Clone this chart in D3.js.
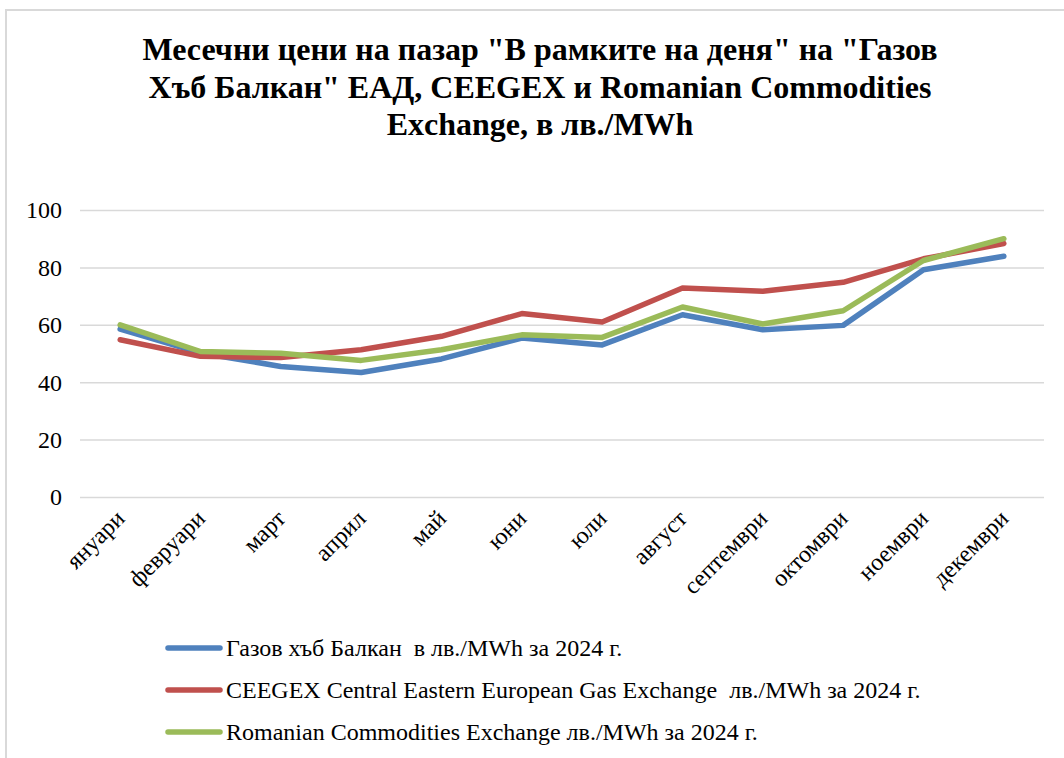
<!DOCTYPE html>
<html>
<head>
<meta charset="utf-8">
<script src="https://cdn.jsdelivr.net/npm/d3@7"></script>
<style>
  body { margin: 0; background: #fff; }
  text { font-family: "Liberation Serif", "Times New Roman", serif; fill: #000; }
</style>
</head>
<body>
<script>
// data
var months = ["януари", "февруари", "март", "април", "май", "юни", "юли",
              "август", "септември", "октомври", "ноември", "декември"];
var gasHub = [58.5, 50.2, 45.5, 43.4, 48.1, 55.4, 53.0, 63.5, 58.3, 59.8, 79.2, 83.9];
var ceegex = [54.8, 49.0, 48.6, 51.3, 56.0, 63.9, 61.0, 72.8, 71.7, 74.8, 83.0, 88.3];
var romania = [60.0, 50.7, 50.1, 47.6, 51.3, 56.5, 55.6, 66.2, 60.3, 64.9, 82.4, 90.0];
var seriesNames = [
  "Газов хъб Балкан  в лв./MWh за 2024 г.",
  "CEEGEX Central Eastern European Gas Exchange  лв./MWh за 2024 г.",
  "Romanian Commodities Exchange лв./MWh за 2024 г."
];
var seriesColors = ["#4f81bd", "#c0504d", "#9bbb59"];
var yTicks = [0, 20, 40, 60, 80, 100];
var titleLines = [
  "Месечни цени на пазар \"В рамките на деня\" на \"Газов",
  "Хъб Балкан\" ЕАД, CEEGEX и Romanian Commodities",
  "Exchange, в лв./MWh"
];

var W = 1064, H = 758;
var margin = {top: 210, right: 20, bottom: 261, left: 80},
    width = W - margin.left - margin.right,
    height = H - margin.top - margin.bottom;

var svg = d3.select("body").append("svg")
    .attr("width", W)
    .attr("height", H);

// chart area border (only top and left visible in the crop)
svg.append("path")
    .attr("d", "M6," + H + "V10H" + W)
    .attr("fill", "none")
    .attr("stroke", "#d9d9d9")
    .attr("stroke-width", 2);

// title
svg.append("g").selectAll("text")
  .data(titleLines)
  .enter().append("text")
    .attr("x", 540)
    .attr("y", function(d, i) { return 60 + i * 37.5; })
    .attr("text-anchor", "middle")
    .style("font-size", "32px")
    .style("font-weight", "bold")
    .text(function(d) { return d; });

var g = svg.append("g")
    .attr("transform", "translate(" + margin.left + "," + margin.top + ")");

var x = d3.scaleBand().domain(months).range([0, width]);
var y = d3.scaleLinear().domain([0, 100]).range([height, 0]);

// grid
g.append("g")
  .call(d3.axisLeft(y).tickValues(yTicks).tickSize(-width).tickFormat(""))
  .call(function(s) { s.select(".domain").remove(); })
  .selectAll("line")
    .attr("stroke", "#d9d9d9")
    .attr("stroke-width", 1.5);

// y labels
g.append("g")
  .selectAll("text")
  .data(yTicks)
  .enter().append("text")
    .attr("x", -18)
    .attr("y", function(d) { return y(d); })
    .attr("dy", "0.35em")
    .attr("text-anchor", "end")
    .style("font-size", "24px")
    .text(function(d) { return d; });

// x labels
g.append("g")
  .selectAll("text")
  .data(months)
  .enter().append("text")
    .attr("transform", function(d) {
      return "translate(" + (x(d) + x.bandwidth() / 2 + 6) + "," + (height + 23) + ")rotate(-45)";
    })
    .attr("text-anchor", "end")
    .style("font-size", "24px")
    .text(function(d) { return d; });

var line = d3.line()
    .x(function(d, i) { return x(months[i]) + x.bandwidth() / 2; })
    .y(function(d) { return y(d); });

[gasHub, ceegex, romania].forEach(function(vals, k) {
  g.append("path")
    .datum(vals)
    .attr("d", line)
    .attr("fill", "none")
    .attr("stroke", seriesColors[k])
    .attr("stroke-width", 5.5)
    .attr("stroke-linejoin", "round")
    .attr("stroke-linecap", "round");
});

// legend
var leg = svg.append("g").selectAll("g")
  .data(seriesNames)
  .enter().append("g")
    .attr("transform", function(d, i) { return "translate(168," + (648 + i * 42) + ")"; });

leg.append("line")
    .attr("x1", 0).attr("x2", 52)
    .attr("stroke", function(d, i) { return seriesColors[i]; })
    .attr("stroke-width", 5.5)
    .attr("stroke-linecap", "round");

leg.append("text")
    .attr("x", 58)
    .attr("dy", "0.35em")
    .style("font-size", "24px")
    .attr("xml:space", "preserve")
    .text(function(d) { return d; });
</script>
</body>
</html>
